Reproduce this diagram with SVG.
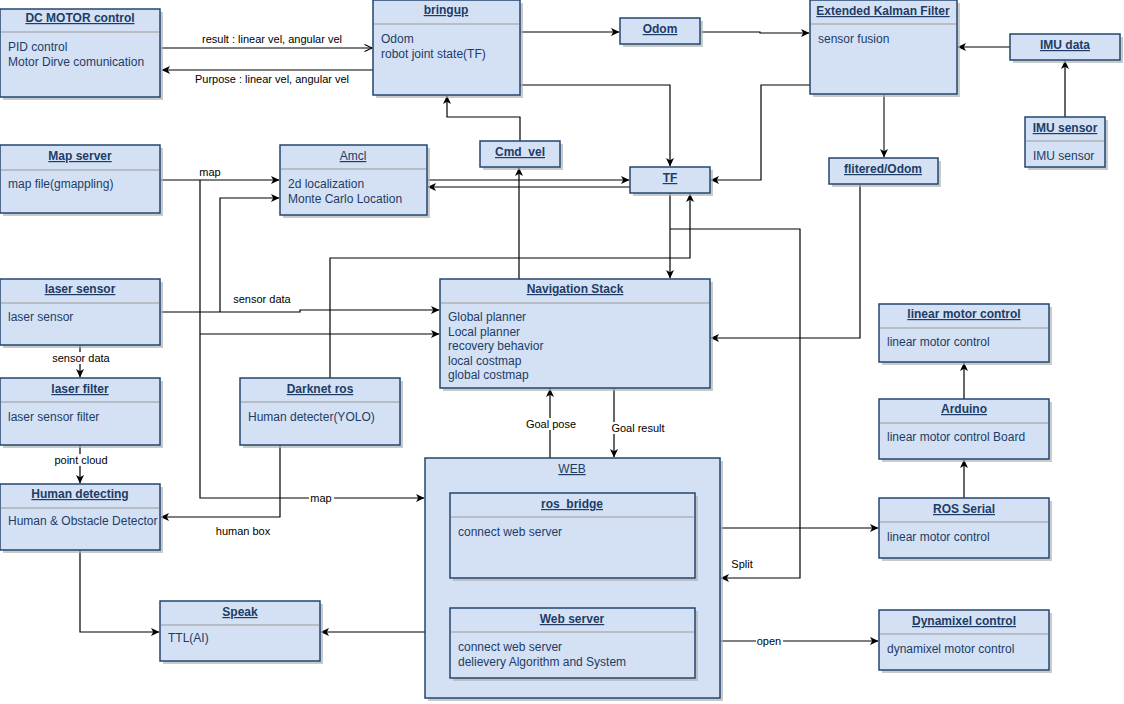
<svg xmlns="http://www.w3.org/2000/svg" width="1124" height="704" viewBox="0 0 1124 704">
<defs>
<marker id="arr" markerUnits="userSpaceOnUse" markerWidth="10" markerHeight="10" refX="8" refY="4.5" orient="auto">
<path d="M0,0.5 L8.5,4.5 L0,8.5 L2.2,4.5 Z" fill="#000"/>
</marker>
<marker id="open" markerUnits="userSpaceOnUse" markerWidth="10" markerHeight="10" refX="8" refY="4.5" orient="auto">
<path d="M0.5,1 L8,4.5 L0.5,8" fill="none" stroke="#000" stroke-width="1.1"/>
</marker>
</defs>
<style>
.sh{fill:#b3b3b3;opacity:0.7}
.bx{fill:#d4e1f5;stroke:#23466f;stroke-width:1.5}
.dv{stroke:#9a9a9a;stroke-width:1.2}
.t{font-family:"Liberation Sans",Arial,sans-serif;font-size:12px;font-weight:bold;fill:#1d3c66;text-anchor:middle;text-decoration:underline}
.tn{font-family:"Liberation Sans",Arial,sans-serif;font-size:12px;fill:#1d3c66;text-anchor:middle;text-decoration:underline}
.b{font-family:"Liberation Sans",Arial,sans-serif;font-size:12px;fill:#1d3c66}
.e{fill:none;stroke:#000;stroke-width:1.2}
.eg{fill:none;stroke:#555;stroke-width:1.6}
.l{font-family:"Liberation Sans",Arial,sans-serif;font-size:11px;fill:#000;text-anchor:middle}
.lb{fill:#fff}
</style>
<rect width="1124" height="704" fill="#fff"/>

<g id="connectors">
<path class="e" d="M161,48 H372" marker-end="url(#open)"/>
<path class="e" d="M373,70 H162" marker-end="url(#arr)"/>
<path class="e" d="M520,32 H619" marker-end="url(#arr)"/>
<path class="e" d="M700,32 L760,32 L760,33 H809" marker-end="url(#arr)"/>
<path class="e" d="M1010,47 H958" marker-end="url(#arr)"/>
<path class="e" d="M1065,117 V61" marker-end="url(#arr)"/>
<path class="eg" d="M884,95 V157" marker-end="url(#arr)"/>
<path class="e" d="M810,85 H761 V180 H711" marker-end="url(#arr)"/>
<path class="e" d="M520,85 H670 V166" marker-end="url(#arr)"/>
<path class="e" d="M161,180 H279" marker-end="url(#arr)"/>
<path class="e" d="M200,180 V498 H424" marker-end="url(#arr)"/>
<path class="e" d="M200,334 H439" marker-end="url(#arr)"/>
<path class="e" d="M161,312 H300 V310 H439" marker-end="url(#arr)"/>
<path class="e" d="M220,312 V198 H279" marker-end="url(#arr)"/>
<path class="e" d="M427,180 H629" marker-end="url(#arr)"/>
<path class="e" d="M630,187 H428" marker-end="url(#arr)"/>
<path class="e" d="M519,279 V168" marker-end="url(#arr)"/>
<path class="e" d="M520,141 V117 H447 V96" marker-end="url(#arr)"/>
<path class="e" d="M670,193 V278" marker-end="url(#arr)"/>
<path class="e" d="M670,229 H800 V578 H721" marker-end="url(#arr)"/>
<path class="e" d="M330,378 V258 H690 V194" marker-end="url(#arr)"/>
<path class="e" d="M860,184 V338 H711" marker-end="url(#arr)"/>
<path class="e" d="M80,345 V377" marker-end="url(#arr)"/>
<path class="e" d="M80,445 V483" marker-end="url(#arr)"/>
<path class="e" d="M280,445 V517 H161" marker-end="url(#arr)"/>
<path class="e" d="M80,550 V632 H159" marker-end="url(#arr)"/>
<path class="e" d="M425,632 H321" marker-end="url(#arr)"/>
<path class="e" d="M614,388 V457" marker-end="url(#arr)"/>
<path class="e" d="M550,458 V389" marker-end="url(#arr)"/>
<path class="e" d="M720,528 H878" marker-end="url(#arr)"/>
<path class="e" d="M720,641 H878" marker-end="url(#arr)"/>
<path class="e" d="M964,399 V363" marker-end="url(#arr)"/>
<path class="e" d="M964,498 V460" marker-end="url(#arr)"/>
<text class="l" x="272" y="43">result : linear vel, angular vel</text>
<text class="l" x="272" y="83">Purpose : linear vel, angular vel</text>
<text class="l" x="210" y="176">map</text>
<rect class="lb" x="309" y="492" width="25" height="12"/>
<text class="l" x="321" y="502">map</text>
<text class="l" x="262" y="303">sensor data</text>
<rect class="lb" x="50" y="352" width="62" height="12"/>
<text class="l" x="81" y="362">sensor data</text>
<rect class="lb" x="52" y="454" width="58" height="12"/>
<text class="l" x="81" y="464">point cloud</text>
<text class="l" x="243" y="535">human box</text>
<rect class="lb" x="525" y="418" width="52" height="12"/>
<text class="l" x="551" y="428">Goal pose</text>
<rect class="lb" x="610" y="422" width="56" height="12"/>
<text class="l" x="638" y="432">Goal result</text>
<text class="l" x="742" y="568">Split</text>
<rect class="lb" x="756" y="635" width="27" height="12"/>
<text class="l" x="769" y="645">open</text>
</g>

<g id="dc-motor">
<rect class="sh" x="3" y="12" width="160" height="88"/>
<rect class="bx" x="0" y="9" width="160" height="88"/>
<line class="dv" x1="1" y1="32" x2="159" y2="32"/>
<text class="t" x="80" y="22">DC MOTOR control</text>
<text class="b" x="8" y="51">PID control</text>
<text class="b" x="8" y="66">Motor Dirve comunication</text>
</g>

<g id="bringup">
<rect class="sh" x="376" y="3" width="147" height="95"/>
<rect class="bx" x="373" y="0" width="147" height="95"/>
<line class="dv" x1="374" y1="24" x2="519" y2="24"/>
<text class="t" x="446" y="14">bringup</text>
<text class="b" x="381" y="43">Odom</text>
<text class="b" x="381" y="58">robot joint state(TF)</text>
</g>

<g id="odom">
<rect class="sh" x="623" y="21" width="80" height="26"/>
<rect class="bx" x="620" y="18" width="80" height="26"/>
<text class="t" x="660" y="33">Odom</text>
</g>

<g id="ekf">
<rect class="sh" x="813" y="3" width="147" height="94"/>
<rect class="bx" x="810" y="0" width="147" height="94"/>
<line class="dv" x1="811" y1="24" x2="956" y2="24"/>
<text class="t" x="883" y="15">Extended Kalman Filter</text>
<text class="b" x="818" y="43">sensor fusion</text>
</g>

<g id="imu-data">
<rect class="sh" x="1013" y="37" width="110" height="26"/>
<rect class="bx" x="1010" y="34" width="110" height="26"/>
<text class="t" x="1065" y="49">IMU data</text>
</g>

<g id="imu-sensor">
<rect class="sh" x="1028" y="120" width="80" height="50"/>
<rect class="bx" x="1025" y="117" width="80" height="50"/>
<line class="dv" x1="1026" y1="141" x2="1104" y2="141"/>
<text class="t" x="1065" y="132">IMU sensor</text>
<text class="b" x="1033" y="160">IMU sensor</text>
</g>

<g id="filtered-odom">
<rect class="sh" x="832" y="161" width="109" height="26"/>
<rect class="bx" x="829" y="158" width="109" height="26"/>
<text class="t" x="883" y="173">flitered/Odom</text>
</g>

<g id="map-server">
<rect class="sh" x="3" y="148" width="160" height="68"/>
<rect class="bx" x="0" y="145" width="160" height="68"/>
<line class="dv" x1="1" y1="170" x2="159" y2="170"/>
<text class="t" x="80" y="160">Map server</text>
<text class="b" x="8" y="188">map file(gmappling)</text>
</g>

<g id="amcl">
<rect class="sh" x="283" y="148" width="147" height="70"/>
<rect class="bx" x="280" y="145" width="147" height="70"/>
<line class="dv" x1="281" y1="169" x2="426" y2="169"/>
<text class="tn" x="353" y="160">Amcl</text>
<text class="b" x="288" y="188">2d localization</text>
<text class="b" x="288" y="203">Monte Carlo Location</text>
</g>

<g id="cmd-vel">
<rect class="sh" x="483" y="144" width="80" height="26"/>
<rect class="bx" x="480" y="141" width="80" height="26"/>
<text class="t" x="520" y="156">Cmd_vel</text>
</g>

<g id="tf">
<rect class="sh" x="633" y="170" width="80" height="26"/>
<rect class="bx" x="630" y="167" width="80" height="26"/>
<text class="t" x="670" y="182">TF</text>
</g>

<g id="laser-sensor">
<rect class="sh" x="3" y="282" width="160" height="66"/>
<rect class="bx" x="0" y="279" width="160" height="66"/>
<line class="dv" x1="1" y1="303" x2="159" y2="303"/>
<text class="t" x="80" y="293">laser sensor</text>
<text class="b" x="8" y="321">laser sensor</text>
</g>

<g id="nav-stack">
<rect class="sh" x="443" y="282" width="270" height="109"/>
<rect class="bx" x="440" y="279" width="270" height="109"/>
<line class="dv" x1="441" y1="303" x2="709" y2="303"/>
<text class="t" x="575" y="293">Navigation Stack</text>
<text class="b" x="448" y="321">Global planner</text>
<text class="b" x="448" y="336">Local planner</text>
<text class="b" x="448" y="350">recovery behavior</text>
<text class="b" x="448" y="365">local costmap</text>
<text class="b" x="448" y="379">global costmap</text>
</g>

<g id="linear-motor">
<rect class="sh" x="882" y="307" width="170" height="58"/>
<rect class="bx" x="879" y="304" width="170" height="58"/>
<line class="dv" x1="880" y1="328" x2="1048" y2="328"/>
<text class="t" x="964" y="318">linear motor control</text>
<text class="b" x="887" y="346">linear motor control</text>
</g>

<g id="laser-filter">
<rect class="sh" x="3" y="381" width="160" height="67"/>
<rect class="bx" x="0" y="378" width="160" height="67"/>
<line class="dv" x1="1" y1="402" x2="159" y2="402"/>
<text class="t" x="80" y="393">laser filter</text>
<text class="b" x="8" y="421">laser sensor filter</text>
</g>

<g id="darknet">
<rect class="sh" x="243" y="381" width="160" height="67"/>
<rect class="bx" x="240" y="378" width="160" height="67"/>
<line class="dv" x1="241" y1="402" x2="399" y2="402"/>
<text class="t" x="320" y="393">Darknet ros</text>
<text class="b" x="248" y="421">Human detecter(YOLO)</text>
</g>

<g id="arduino">
<rect class="sh" x="882" y="402" width="170" height="60"/>
<rect class="bx" x="879" y="399" width="170" height="60"/>
<line class="dv" x1="880" y1="423" x2="1048" y2="423"/>
<text class="t" x="964" y="413">Arduino</text>
<text class="b" x="887" y="441">linear motor control Board</text>
</g>

<g id="human-detecting">
<rect class="sh" x="3" y="487" width="160" height="66"/>
<rect class="bx" x="0" y="484" width="160" height="66"/>
<line class="dv" x1="1" y1="508" x2="159" y2="508"/>
<text class="t" x="80" y="498">Human detecting</text>
<text class="b" x="8" y="525">Human &amp; Obstacle Detector</text>
</g>

<g id="web">
<rect class="sh" x="428" y="461" width="295" height="240"/>
<rect class="bx" x="425" y="458" width="295" height="240"/>
<text class="tn" x="572" y="473">WEB</text>
<g id="ros-bridge">
<rect class="sh" x="453" y="496" width="245" height="85"/>
<rect class="bx" x="450" y="493" width="245" height="85"/>
<line class="dv" x1="451" y1="517" x2="694" y2="517"/>
<text class="t" x="572" y="508">ros_bridge</text>
<text class="b" x="458" y="536">connect web server</text>
</g>
<g id="web-server">
<rect class="sh" x="453" y="611" width="245" height="70"/>
<rect class="bx" x="450" y="608" width="245" height="70"/>
<line class="dv" x1="451" y1="632" x2="694" y2="632"/>
<text class="t" x="572" y="623">Web server</text>
<text class="b" x="458" y="651">connect web server</text>
<text class="b" x="458" y="666">delievery Algorithm and System</text>
</g>
</g>

<g id="ros-serial">
<rect class="sh" x="882" y="501" width="170" height="60"/>
<rect class="bx" x="879" y="498" width="170" height="60"/>
<line class="dv" x1="880" y1="522" x2="1048" y2="522"/>
<text class="t" x="964" y="513">ROS Serial</text>
<text class="b" x="887" y="541">linear motor control</text>
</g>

<g id="dynamixel">
<rect class="sh" x="882" y="613" width="170" height="60"/>
<rect class="bx" x="879" y="610" width="170" height="60"/>
<line class="dv" x1="880" y1="634" x2="1048" y2="634"/>
<text class="t" x="964" y="625">Dynamixel control</text>
<text class="b" x="887" y="653">dynamixel motor control</text>
</g>

<g id="speak">
<rect class="sh" x="163" y="604" width="160" height="60"/>
<rect class="bx" x="160" y="601" width="160" height="60"/>
<line class="dv" x1="161" y1="625" x2="319" y2="625"/>
<text class="tn" x="240" y="616" font-weight="bold">Speak</text>
<text class="b" x="168" y="642">TTL(AI)</text>
</g>
</svg>
